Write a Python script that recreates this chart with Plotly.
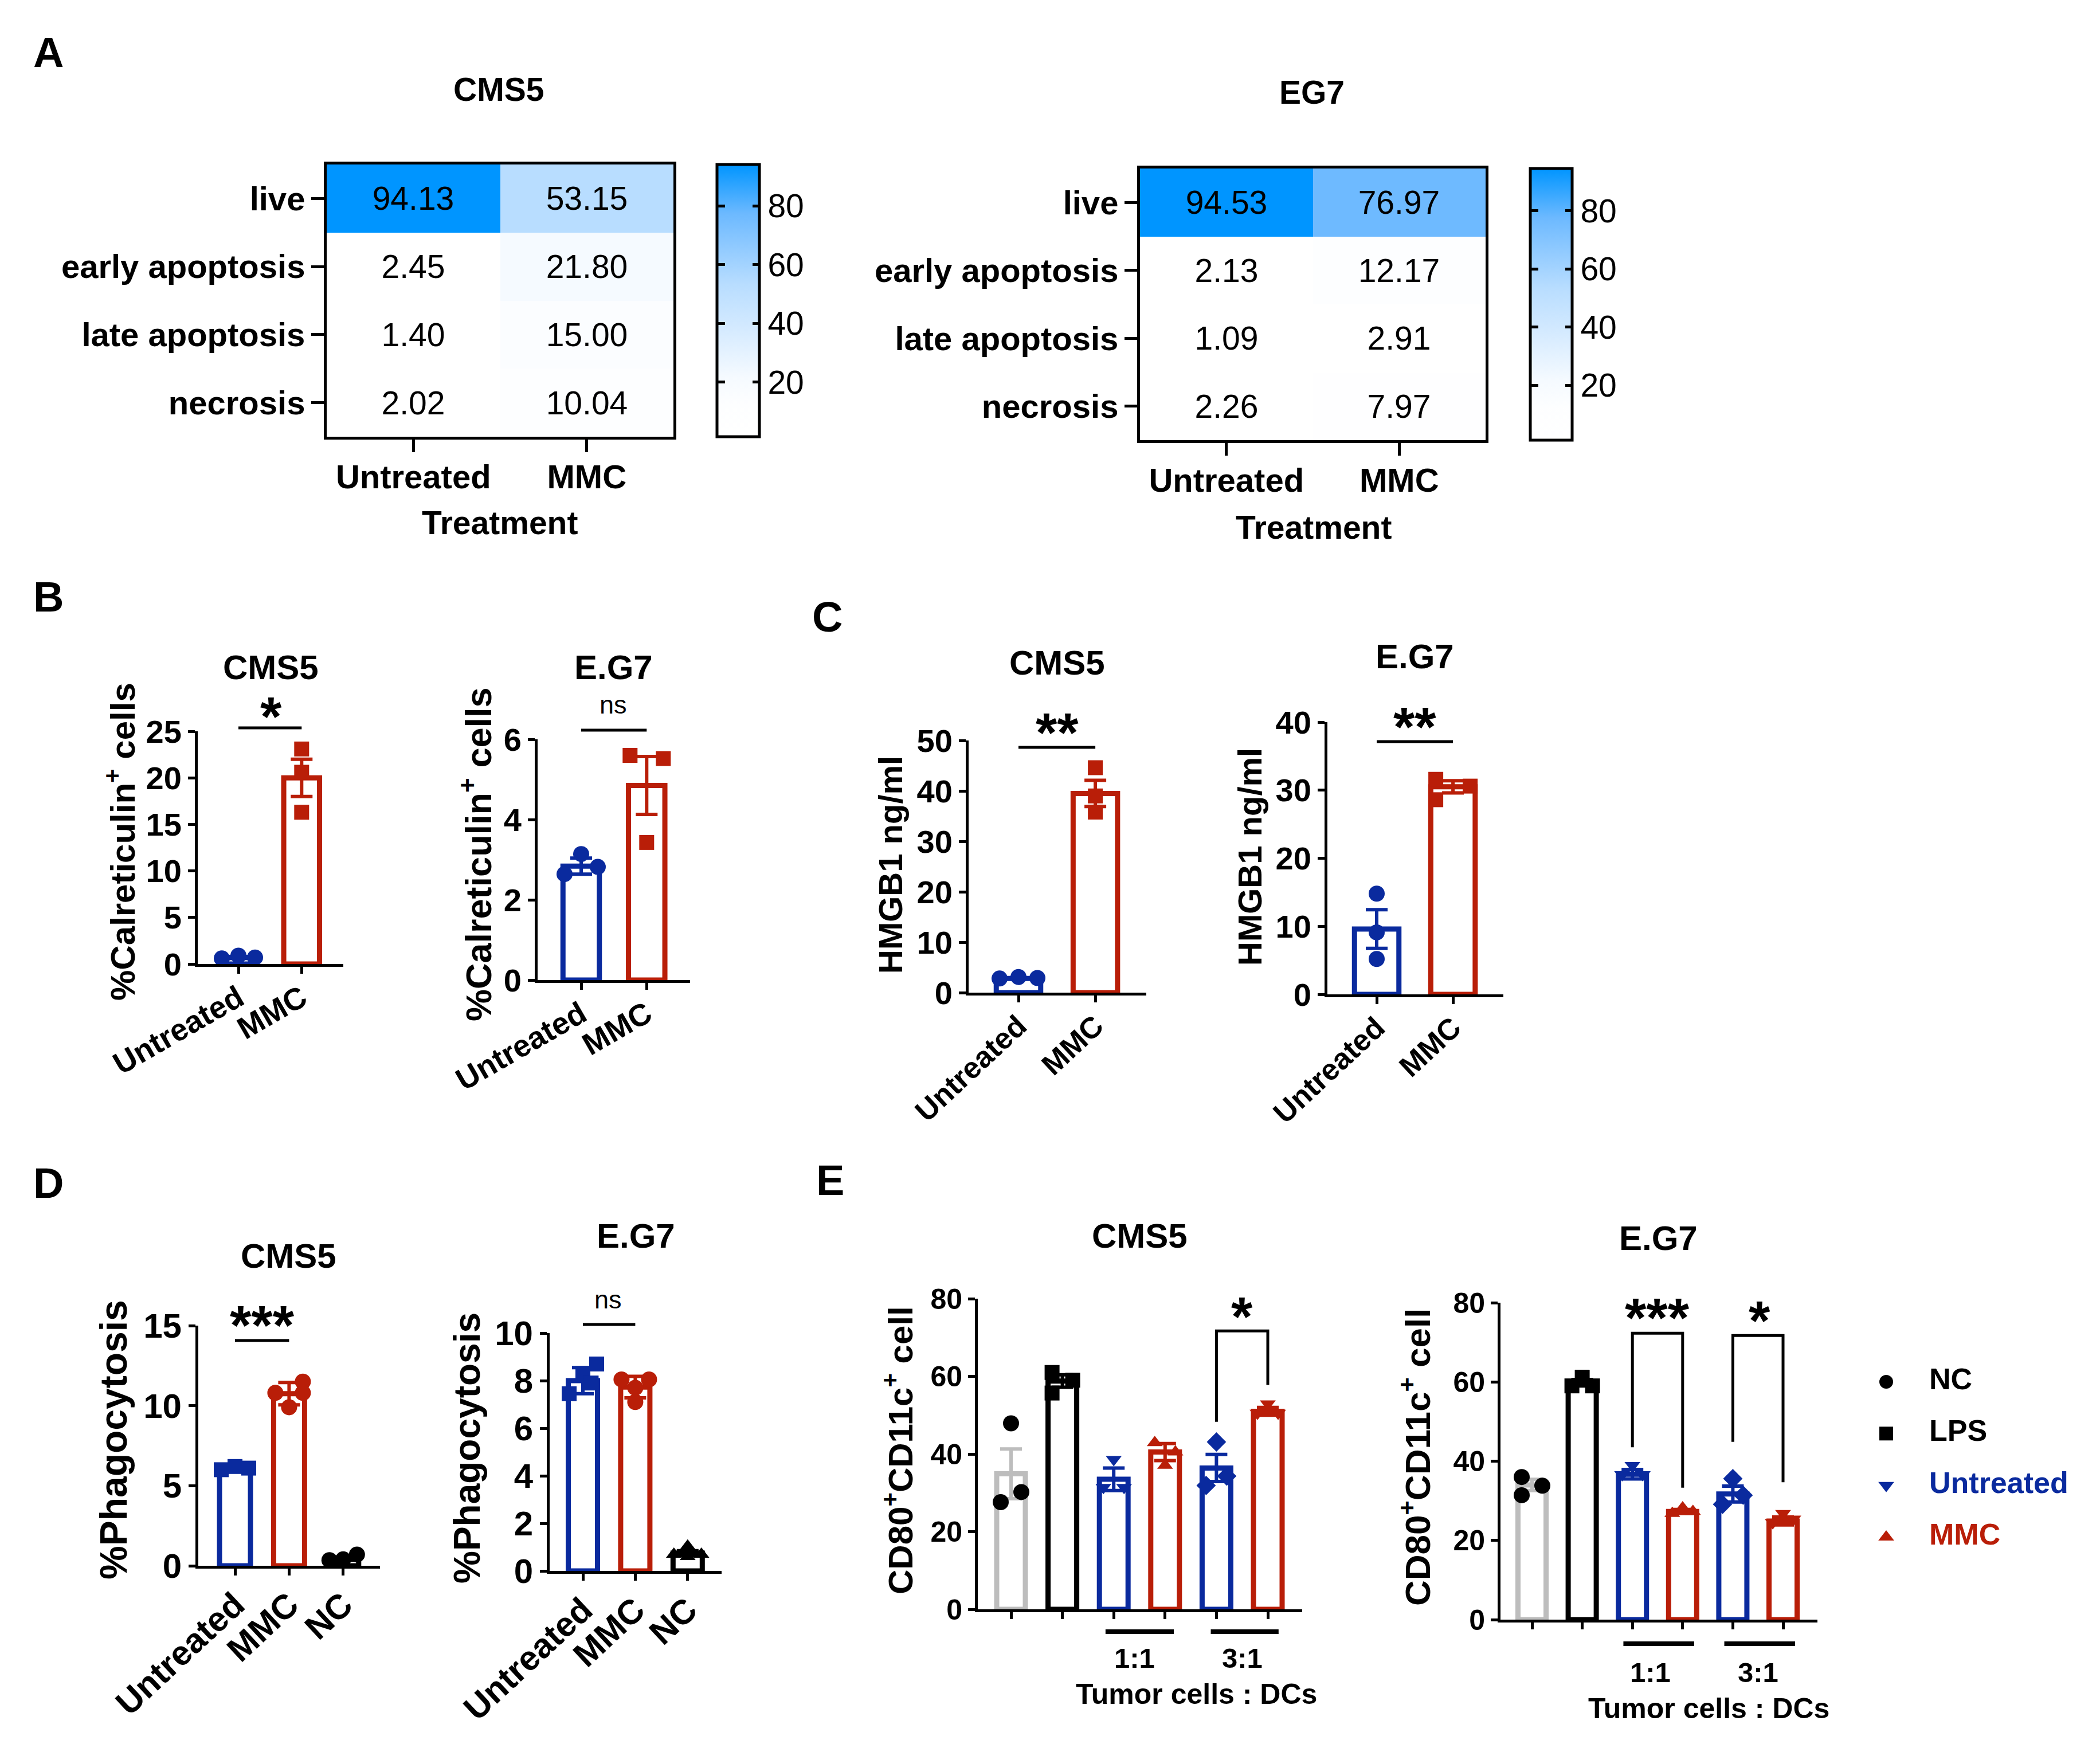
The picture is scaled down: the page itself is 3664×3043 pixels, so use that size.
import plotly.graph_objects as go

W = 3664
H = 3043
FONT = "Liberation Sans"
BLUE = "#0A2A9E"
RED = "#B91E08"
GRAY = "#BDBDBD"
BLACK = "#000000"

# panel A
HEAT_ROWS = ["live", "early apoptosis", "late apoptosis", "necrosis"]
HEAT_COLS = ["Untreated", "MMC"]
A1_Z = [[94.13, 53.15], [2.45, 21.80], [1.40, 15.00], [2.02, 10.04]]
A2_Z = [[94.53, 76.97], [2.13, 12.17], [1.09, 2.91], [2.26, 7.97]]
HEAT_TICKS = [20, 40, 60, 80]
HEAT_SCALE = [
    [0.0, "#FFFFFF"], [0.12, "#FDFEFF"], [0.22, "#F5FAFF"], [0.41, "#D2E9FF"],
    [0.56, "#B8DDFF"], [0.82, "#6CB9FF"], [1.0, "#0095FF"],
]

# panel B
TWO_CATS = ["Untreated", "MMC"]
B1_MEANS = [0.7, 20.0]
B1_SEMS = [0.1, 2.0]
B1_POINTS = [[0.6, 0.9, 0.7], [23.1, 20.6, 16.3]]
B1_SIDES = [[-1, 0, 1], [0, 0, 0]]
B2_MEANS = [2.84, 4.85]
B2_SEMS = [0.2, 0.72]
B2_POINTS = [[3.14, 2.82, 2.64], [5.6, 5.52, 3.43]]
B2_SIDES = [[0, 1, -1], [-1, 1, 0]]

# panel C
C1_MEANS = [2.8, 39.5]
C1_SEMS = [0.1, 2.6]
C1_POINTS = [[2.8, 3.1, 2.9], [44.6, 39.0, 35.8]]
C1_SIDES = [[-1, 0, 1], [0, 0, 0]]
C2_MEANS = [9.6, 30.5]
C2_SEMS = [2.85, 0.9]
C2_POINTS = [[14.8, 9.1, 5.2], [31.6, 28.6, 30.6]]
C2_SIDES = [[0, 0, 0], [-1, -1, 1]]

# panel D
THREE_CATS = ["Untreated", "MMC", "NC"]
D1_MEANS = [6.1, 10.75, 0.45]
D1_SEMS = [0.1, 0.7, 0.1]
D1_POINTS = [[6.0, 6.2, 6.1], [11.5, 10.8, 10.8, 9.9], [0.35, 0.4, 0.7]]
D1_SIDES = [[-1, 0, 1], [1, -1, 1, 0], [-1, 0, 1]]
D2_MEANS = [8.0, 7.73, 0.75]
D2_SEMS = [0.55, 0.45, 0.1]
D2_POINTS = [[7.45, 8.7, 8.3, 7.9], [8.05, 8.05, 7.7, 7.1], [1.04, 0.7, 0.7, 0.6]]
D2_SIDES = [[-1, 1, 0, 0.6], [-1, 1, 0, 0], [0, -1, 1, 0]]

# panel E
E_CATS = ["NC", "LPS", "Untreated 1:1", "MMC 1:1", "Untreated 3:1", "MMC 3:1"]
E1_MEANS = [34.9, 58.8, 33.5, 40.5, 36.4, 51.0]
E1_SEMS = [6.4, 1.6, 2.9, 2.2, 3.5, 1.0]
E1_POINTS = [[47.9, 30.2, 27.6], [61.0, 59.0, 55.7], [38.6, 31.4, 31.4],
             [42.9, 40.5, 37.1], [43.1, 34.3, 31.9], [52.9, 50.5, 50.5]]
E1_SIDES = [[0, 1, -1], [-1, 1, -1], [0, -1, 1], [-1, 1, 0], [0, 1, -1], [0, -1, 1]]
E2_MEANS = [34.0, 59.8, 36.7, 27.3, 31.7, 24.9]
E2_SEMS = [1.4, 0.8, 1.2, 0.5, 2.0, 1.0]
E2_POINTS = [[36.0, 33.8, 31.4], [61.2, 59.0, 59.0], [38.9, 36.6, 36.6],
             [28.2, 26.8, 27.3], [35.6, 31.4, 29.1], [26.8, 25.4, 24.5]]
E2_SIDES = [[-1, 1, -1], [0, -1, 1], [0, -1, 1], [0, -1, 1], [0, 1, -1], [0, 1, -1]]

LEGEND_NAMES = ["NC", "LPS", "Untreated", "MMC"]

SYMBOL_SIZE = {"circle": 28, "square": 26, "triangle-up": 24, "triangle-down": 24, "diamond": 26}

fig = go.Figure()
layout = {}
notes = []
lines = []
axis_no = 0


def fx(px):
    return px / W


def fy(px):
    return 1 - px / H


def text(s, x, y, size=57, bold=True, color=BLACK, angle=0, xanchor="center"):
    notes.append(dict(
        text=s, x=fx(x), y=fy(y), xref="paper", yref="paper", showarrow=False,
        textangle=angle, xanchor=xanchor, yanchor="middle",
        font=dict(family=FONT, size=size, color=color, weight=700 if bold else 400),
    ))


def stars(s, x, y, size=96):
    # the asterisk sits high in its line box
    text(s, x, y + 0.17 * size, size=size)


def new_axes():
    global axis_no
    axis_no += 1
    return ("x", "y") if axis_no == 1 else (f"x{axis_no}", f"y{axis_no}")


def axis_key(ref):
    return ref[0] + "axis" + ref[1:]


def add_heat(z, box, bar_box):
    left, right, top, bottom = box
    xr, yr = new_axes()
    zmin = min(min(r) for r in z)
    zmax = max(max(r) for r in z)
    bar_left, bar_right = bar_box
    bar = dict(
        x=fx(bar_left), xanchor="left", xpad=0, y=fy(top), yanchor="top", ypad=0,
        thickness=bar_right - bar_left, thicknessmode="pixels",
        len=bottom - top, lenmode="pixels", outlinewidth=5, outlinecolor=BLACK,
        tickmode="array", tickvals=HEAT_TICKS, ticks="inside", ticklen=14, tickwidth=5,
        tickcolor=BLACK, tickfont=dict(family=FONT, size=57, color=BLACK), tickprefix="\u200b\u2005",
    )
    fig.add_trace(go.Heatmap(
        z=z, x=HEAT_COLS, y=HEAT_ROWS, xaxis=xr, yaxis=yr, zmin=zmin, zmax=zmax,
        colorscale=HEAT_SCALE, colorbar=bar, texttemplate="%{z:.2f}",
        textfont=dict(family=FONT, size=57, color=BLACK), hoverongaps=False,
    ))
    # second, empty colour bar only to get the ticks on the left edge of the bar
    ghost = dict(
        x=fx(bar_left) - 1 / W, xanchor="left", xpad=0, y=fy(top), yanchor="top", ypad=0,
        thickness=1, thicknessmode="pixels", len=bottom - top, lenmode="pixels",
        outlinewidth=0, tickmode="array", tickvals=HEAT_TICKS, ticks="outside",
        ticklen=14, tickwidth=5, tickcolor=BLACK, showticklabels=False,
    )
    fig.add_trace(go.Heatmap(
        z=z, x=HEAT_COLS, y=HEAT_ROWS, xaxis=xr, yaxis=yr, zmin=zmin, zmax=zmax,
        colorscale=[[0, "rgba(0,0,0,0)"], [1, "rgba(0,0,0,0)"]], opacity=0,
        colorbar=ghost, hoverinfo="skip",
    ))
    common = dict(showline=True, linecolor=BLACK, linewidth=5, mirror=True, ticks="outside",
                  ticklen=22, tickwidth=5, tickcolor=BLACK, showgrid=False, zeroline=False,
                  tickfont=dict(family=FONT, size=58, color=BLACK, weight=700))
    layout[axis_key(xr)] = dict(domain=[fx(left), fx(right)], anchor=yr, type="category",
                                ticklabelstandoff=-7, **common)
    layout[axis_key(yr)] = dict(domain=[fy(bottom), fy(top)], anchor=xr, type="category",
                                autorange="reversed", ticklabelstandoff=-1, **common)


def add_bars(cats, means, sems, points, sides, colors, symbols, box, first, step, bar_px, jitter,
             y_max, y_step, tick_size, angle=0, labels=True, label_size=56, label_off=0):
    left, right, top, bottom = box
    xr, yr = new_axes()
    stroke = 9
    for i in range(len(means)):
        fig.add_trace(go.Bar(
            x=[i], y=[means[i]], xaxis=xr, yaxis=yr, width=(bar_px - stroke) / step, name=cats[i],
            marker=dict(color="#FFFFFF", line=dict(color=colors[i], width=stroke)),
            error_y=dict(type="data", array=[sems[i]], color=colors[i], thickness=6, width=19),
            showlegend=False,
        ))
        mark = BLACK if colors[i] == GRAY else colors[i]
        fig.add_trace(go.Scatter(
            x=[i + s * jitter / step for s in sides[i]], y=points[i], xaxis=xr, yaxis=yr, name=cats[i],
            mode="markers", cliponaxis=False, showlegend=False,
            marker=dict(color=mark, size=SYMBOL_SIZE[symbols[i]], symbol=symbols[i], line=dict(width=0)),
        ))
    layout[axis_key(xr)] = dict(
        domain=[fx(left), fx(right)], anchor=yr, range=[(left - first) / step, (right - first) / step],
        tickmode="array", tickvals=list(range(len(cats))), ticktext=cats, tickangle=angle,
        showticklabels=labels, ticklabelstandoff=label_off,
        showline=True, linecolor=BLACK, linewidth=5, ticks="outside", ticklen=12, tickwidth=5,
        tickcolor=BLACK, showgrid=False, zeroline=False,
        tickfont=dict(family=FONT, size=label_size, color=BLACK, weight=700),
    )
    layout[axis_key(yr)] = dict(
        domain=[fy(bottom), fy(top)], anchor=xr, range=[0, y_max], dtick=y_step, tick0=0,
        showline=True, linecolor=BLACK, linewidth=5, ticks="outside", ticklen=12, tickwidth=5,
        tickcolor=BLACK, showgrid=False, zeroline=False,
        tickfont=dict(family=FONT, size=tick_size, color=BLACK, weight=700),
    )
    return xr, yr


def add_bracket(refs, xs, ys):
    fig.add_trace(go.Scatter(
        x=xs, y=ys, xaxis=refs[0], yaxis=refs[1], mode="lines", cliponaxis=False, showlegend=False,
        line=dict(color=BLACK, width=5), hoverinfo="skip",
    ))


def add_rule(refs, x0, x1, y_px, width=5):
    # significance bars and ratio rules sit outside the plot area, so use shapes
    lines.append(dict(type="line", xref=refs[0], yref="paper", x0=x0, x1=x1, y0=fy(y_px), y1=fy(y_px),
                      line=dict(color=BLACK, width=width)))


# panel A
add_heat(A1_Z, (570, 1175, 287, 762), (1251, 1325))
text("CMS5", 870, 156)
text("Treatment", 872, 912)
add_heat(A2_Z, (1989, 2592, 294, 768), (2670, 2743))
text("EG7", 2289, 161)
text("Treatment", 2292, 920)
text("A", 84, 91, size=74)

# panel B
refs = add_bars(TWO_CATS, B1_MEANS, B1_SEMS, B1_POINTS, B1_SIDES, [BLUE, RED], ["circle", "square"],
                (345, 599, 1276, 1682), 416, 110.3, 71.5, 29, 25, 5, 56, angle=-30,
                label_size=54, label_off=-10)
add_rule(refs, 0, 1, 1270)
stars("*", 473, 1233)
text("CMS5", 473, 1164, size=60)
text("%Calreticulin<sup>+</sup> cells", 210, 1469, size=60, angle=-90)
refs = add_bars(TWO_CATS, B2_MEANS, B2_SEMS, B2_POINTS, B2_SIDES, [BLUE, RED], ["circle", "square"],
                (938, 1204, 1290, 1710), 1014, 114.3, 72.5, 29, 6, 2, 56, angle=-30,
                label_size=54, label_off=-10)
add_rule(refs, 0, 1, 1274)
text("ns", 1070, 1230, size=45, bold=False)
text("E.G7", 1070, 1164, size=60)
text("%Calreticulin<sup>+</sup> cells", 830, 1491, size=63, angle=-90)
text("B", 84, 1041, size=74)

# panel C
refs = add_bars(TWO_CATS, C1_MEANS, C1_SEMS, C1_POINTS, C1_SIDES, [BLUE, RED], ["circle", "square"],
                (1690, 2000, 1292, 1732), 1777, 134.1, 86.5, 33, 50, 10, 56, angle=-43,
                label_size=52, label_off=-10)
add_rule(refs, 0, 1, 1304)
stars("**", 1844, 1261)
text("CMS5", 1844, 1156, size=60)
text("HMGB1 ng/ml", 1553, 1509, size=58, angle=-90)
refs = add_bars(TWO_CATS, C2_MEANS, C2_SEMS, C2_POINTS, C2_SIDES, [BLUE, RED], ["circle", "square"],
                (2316, 2623, 1260, 1735), 2402, 133.1, 86.5, 30, 40, 10, 56, angle=-43,
                label_size=52, label_off=-10)
add_rule(refs, 0, 1, 1294)
stars("**", 2468, 1251)
text("E.G7", 2468, 1145, size=60)
text("HMGB1 ng/ml", 2180, 1495, size=58, angle=-90)
text("C", 1443, 1076, size=74)

# panel D
refs = add_bars(THREE_CATS, D1_MEANS, D1_SEMS, D1_POINTS, D1_SIDES, [BLUE, RED, BLACK],
                ["square", "circle", "circle"], (346, 663, 2313, 2732), 410, 94.4, 63, 24, 15, 5, 60, angle=-43,
                label_size=60, label_off=-8)
add_rule(refs, 0, 1, 2339)
stars("***", 457, 2295)
text("CMS5", 504, 2191, size=60)
text("%Phagocytosis", 198, 2512, size=66, angle=-90)
refs = add_bars(THREE_CATS, D2_MEANS, D2_SEMS, D2_POINTS, D2_SIDES, [BLUE, RED, BLACK],
                ["square", "circle", "triangle-up"], (959, 1259, 2326, 2741), 1017, 91.4, 60, 24, 10, 2, 60,
                angle=-43, label_size=60, label_off=-8)
add_rule(refs, 0, 1, 2311)
text("ns", 1061, 2267, size=45, bold=False)
text("E.G7", 1109, 2156, size=60)
text("%Phagocytosis", 815, 2527, size=64, angle=-90)
text("D", 84, 2064, size=74)

# panel E
E_COLORS = [GRAY, BLACK, BLUE, RED, BLUE, RED]
E_SYMBOLS = ["circle", "square", "triangle-down", "triangle-up", "diamond", "triangle-down"]
refs = add_bars(E_CATS, E1_MEANS, E1_SEMS, E1_POINTS, E1_SIDES, E_COLORS, E_SYMBOLS,
                (1706, 2272, 2266, 2808), 1764, 89.6, 59, 18, 80, 20, 50, labels=False)
add_bracket(refs, [4, 4, 5, 5], [48.3, 71.7, 71.7, 57.8])
add_rule(refs, 1.84, 3.17, 2847, width=8)
add_rule(refs, 3.89, 5.21, 2847, width=8)
stars("*", 2167, 2280)
text("1:1", 1980, 2893, size=49)
text("3:1", 2167, 2893, size=49)
text("Tumor cells : DCs", 2087, 2956, size=50)
text("CMS5", 1988, 2156, size=60)
text("CD80<sup>+</sup>CD11c<sup>+</sup> cell", 1567, 2531, size=60, angle=-90)
refs = add_bars(E_CATS, E2_MEANS, E2_SEMS, E2_POINTS, E2_SIDES, E_COLORS, E_SYMBOLS,
                (2618, 3171, 2273, 2826), 2673, 87.6, 58, 18, 80, 20, 50, labels=False)
add_bracket(refs, [2, 2, 3, 3], [43.5, 72.3, 72.3, 33.3])
add_bracket(refs, [4, 4, 5, 5], [44.9, 71.7, 71.7, 34.7])
add_rule(refs, 1.82, 3.23, 2868, width=8)
add_rule(refs, 3.83, 5.24, 2868, width=8)
stars("***", 2891, 2282)
stars("*", 3070, 2287)
text("1:1", 2879, 2918, size=49)
text("3:1", 3067, 2918, size=49)
text("Tumor cells : DCs", 2981, 2981, size=50)
text("E.G7", 2893, 2160, size=60)
text("CD80<sup>+</sup>CD11c<sup>+</sup> cell", 2469, 2543, size=62, angle=-90)
text("E", 1448, 2059, size=74)

# legend as a tiny hidden subplot so keys and names share a scale
xr, yr = new_axes()
key_colors = [BLACK, BLACK, BLUE, RED]
fig.add_trace(go.Scatter(
    x=[0] * 4, y=LEGEND_NAMES, xaxis=xr, yaxis=yr, mode="markers", cliponaxis=False, showlegend=False,
    marker=dict(size=24, color=key_colors, symbol=["circle", "square", "triangle-down", "triangle-up"]),
))
fig.add_trace(go.Scatter(
    x=[1] * 4, y=LEGEND_NAMES, xaxis=xr, yaxis=yr, mode="text", cliponaxis=False, showlegend=False,
    text=LEGEND_NAMES, textposition="middle right",
    textfont=dict(family=FONT, size=52, color=key_colors, weight=700),
))
layout[axis_key(xr)] = dict(domain=[fx(3291), fx(3366)], anchor=yr, range=[0, 1], visible=False)
layout[axis_key(yr)] = dict(domain=[fy(2682), fy(2411)], anchor=xr, range=[3, 0], type="category",
                            visible=False, categoryorder="array", categoryarray=LEGEND_NAMES)

fig.update_layout(
    width=W, height=H, margin=dict(l=0, r=0, t=0, b=0, autoexpand=False), plot_bgcolor="white",
    paper_bgcolor="white", barmode="overlay", showlegend=False, annotations=notes, shapes=lines,
    font=dict(family=FONT, color=BLACK), **layout,
)
fig.write_html("out.html", config={"displayModeBar": False}, post_script="document.body.style.margin='0';")
